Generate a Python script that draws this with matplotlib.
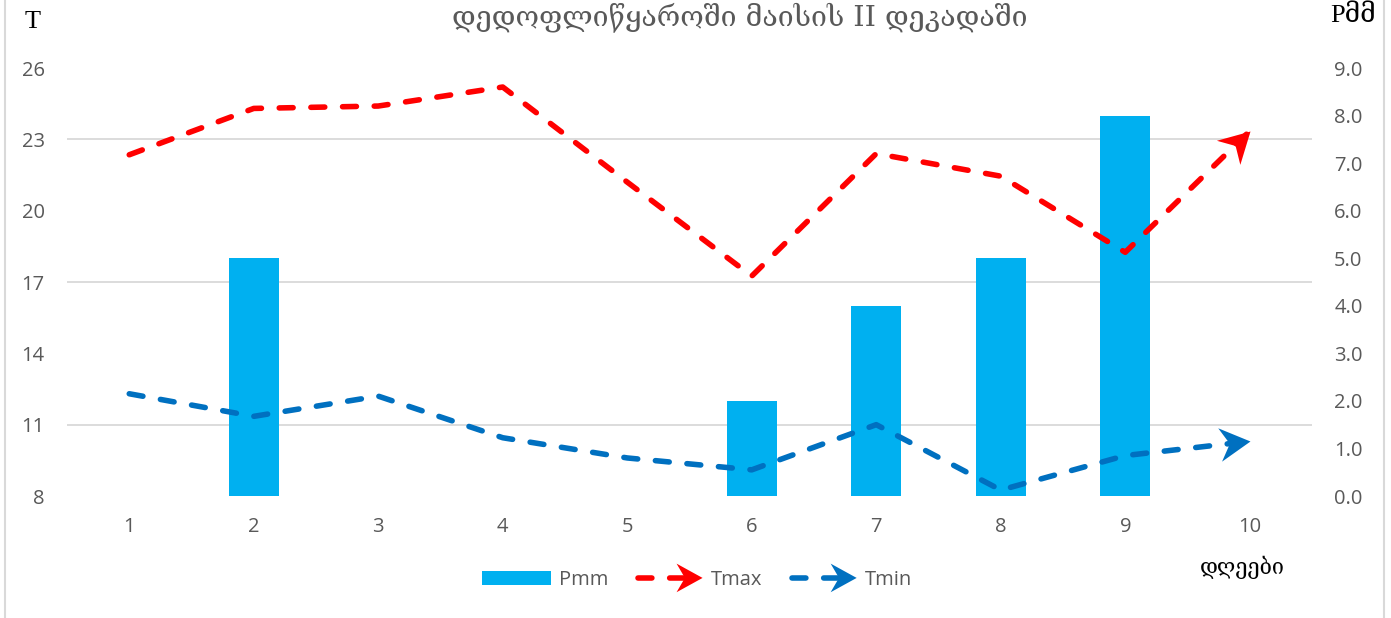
import numpy as np
import matplotlib
matplotlib.use("Agg")
import matplotlib.pyplot as plt
from matplotlib.lines import Line2D
from matplotlib.patches import Polygon, Rectangle
from matplotlib.path import Path
from matplotlib.markers import MarkerStyle
from matplotlib.transforms import Affine2D
from matplotlib.legend_handler import HandlerBase

days = [1, 2, 3, 4, 5, 6, 7, 8, 9, 10]
pmm = [0, 5, 0, 0, 0, 2, 4, 5, 8, 0]
tmax = [22.35, 24.3, 24.4, 25.2, 21.2, 17.25, 22.4, 21.45, 18.25, 23.35]
tmin = [12.3, 11.35, 12.2, 10.45, 9.6, 9.1, 11.0, 8.25, 9.7, 10.3]
left_ticks = [8, 11, 14, 17, 20, 23, 26]
right_ticks = [0, 1, 2, 3, 4, 5, 6, 7, 8, 9]

title = "დედოფლიწყაროში მაისის II დეკადაში"
xlabel = "დღეები"

C_BAR = "#00B0F0"
C_MAX = "#FF0000"
C_MIN = "#0070C0"
C_TXT = "#595959"
C_GRID = "#D9D9D9"

LW = 4.0
DASHES = (2.5, 3.2)
TICK_FS = 14.5

fig = plt.figure(figsize=(13.91, 6.18), dpi=100)
ax2 = fig.add_axes([67/1391, 1-496/618, (1312-67)/1391, (496-68)/618])
ax = ax2.twinx()
ax.yaxis.tick_left()
ax2.yaxis.tick_right()
ax.set_zorder(ax2.get_zorder() + 1)
ax.patch.set_visible(False)

# bars (right scale)
ax2.bar(days, pmm, width=0.4, color=C_BAR, zorder=2)
ax2.set_ylim(0, 9)
ax2.set_yticks(right_ticks)
ax2.set_yticklabels([f"{v:.1f}" for v in right_ticks])
ax2.set_yticks(np.arange(0, 9.01, 1.5), minor=True)
ax2.grid(True, which="minor", axis="y", color=C_GRID, lw=1.3)
ax2.set_axisbelow(True)
ax2.tick_params(which="both", length=0)
ax2.tick_params(axis="y", labelsize=TICK_FS, labelcolor=C_TXT, pad=16)
ax2.tick_params(axis="x", labelsize=TICK_FS, labelcolor=C_TXT, pad=15)

ax.set_xlim(0.5, 10.5)
ax.set_ylim(8, 26)
ax.set_yticks(left_ticks)
ax.set_xticks(days)
ax.tick_params(length=0)
ax.tick_params(axis="y", labelsize=TICK_FS, labelcolor=C_TXT, pad=16)
ax2.set_xticks(days)

for a in (ax, ax2):
    for s in a.spines.values():
        s.set_visible(False)

ax.plot(days, tmax, color=C_MAX, lw=LW, dashes=DASHES, dash_capstyle="round", zorder=3)
ax.plot(days, tmin, color=C_MIN, lw=LW, dashes=DASHES, dash_capstyle="round", zorder=3)

arrow_path = Path([(0, 0), (-1, 0.55), (-0.68, 0), (-1, -0.55), (0, 0)],
                  [Path.MOVETO, Path.LINETO, Path.LINETO, Path.LINETO, Path.CLOSEPOLY])

def add_head(ys, color):
    p1 = ax.transData.transform((days[-2], ys[-2]))
    p2 = ax.transData.transform((days[-1], ys[-1]))
    ang = np.degrees(np.arctan2(p2[1]-p1[1], p2[0]-p1[0]))
    m = MarkerStyle(arrow_path, transform=Affine2D().rotate_deg(ang))
    ax.plot([days[-1]], [ys[-1]], marker=m, markersize=44, color=color,
            markeredgewidth=0, linestyle="none", zorder=4)

add_head(tmax, C_MAX)
add_head(tmin, C_MIN)

class ArrowHandler(HandlerBase):
    def __init__(self, color):
        super().__init__()
        self.color = color
    def create_artists(self, legend, orig_handle, xdescent, ydescent, width, height, fontsize, trans):
        y = height/2 - ydescent
        x0 = -xdescent
        x1 = x0 + width
        L = width*0.38
        ln = Line2D([x0+3, x1-L*0.6], [y, y], color=self.color, lw=LW,
                    dashes=DASHES, dash_capstyle="round", transform=trans)
        W = L*0.55
        poly = Polygon([(x1, y), (x1-L, y+W), (x1-L*0.68, y), (x1-L, y-W)],
                       closed=True, facecolor=self.color, edgecolor="none", transform=trans)
        return [ln, poly]

h_bar = Rectangle((0, 0), 1, 1, facecolor=C_BAR)
h_max = Line2D([], [], color=C_MAX)
h_min = Line2D([], [], color=C_MIN)
leg = fig.legend([h_bar, h_max, h_min], ["Pmm", "Tmax", "Tmin"],
                 handler_map={h_max: ArrowHandler(C_MAX), h_min: ArrowHandler(C_MIN)},
                 loc="center", bbox_to_anchor=(697/1391, 1-580/618), ncol=3,
                 frameon=False, prop={"family": "Open Sans", "size": 14.5},
                 handlelength=3.4, handleheight=0.65, handletextpad=0.4, columnspacing=1.3)
for t in leg.get_texts():
    t.set_color(C_TXT)

for lab in ax.get_yticklabels() + ax2.get_yticklabels() + ax2.get_xticklabels():
    lab.set_family("Open Sans")

fig.text(740/1391, 1-17/618, title, ha="center", va="center", fontsize=20.5,
         color=C_TXT, family=["DejaVu Serif", "DejaVu Sans"])
fig.text(33/1391, 1-22/618, "T", ha="center", va="center", fontsize=19,
         color="black", family=["Liberation Serif"])
fig.text(1353/1391, 1-16/618, "Pმმ", ha="center", va="center", fontsize=19,
         color="black", family=["Liberation Serif", "DejaVu Serif", "DejaVu Sans"])
fig.text(1242/1391, 1-567/618, xlabel, ha="center", va="center", fontsize=15.5,
         color="black", family=["DejaVu Serif", "DejaVu Sans"])

fig.add_artist(Line2D([4.5/1391, 4.5/1391], [0, 1], color="#D9D9D9", lw=1.5, transform=fig.transFigure))
fig.add_artist(Line2D([1383.5/1391, 1383.5/1391], [0, 1], color="#D9D9D9", lw=1.5, transform=fig.transFigure))

fig.savefig("out.png", dpi=100)
